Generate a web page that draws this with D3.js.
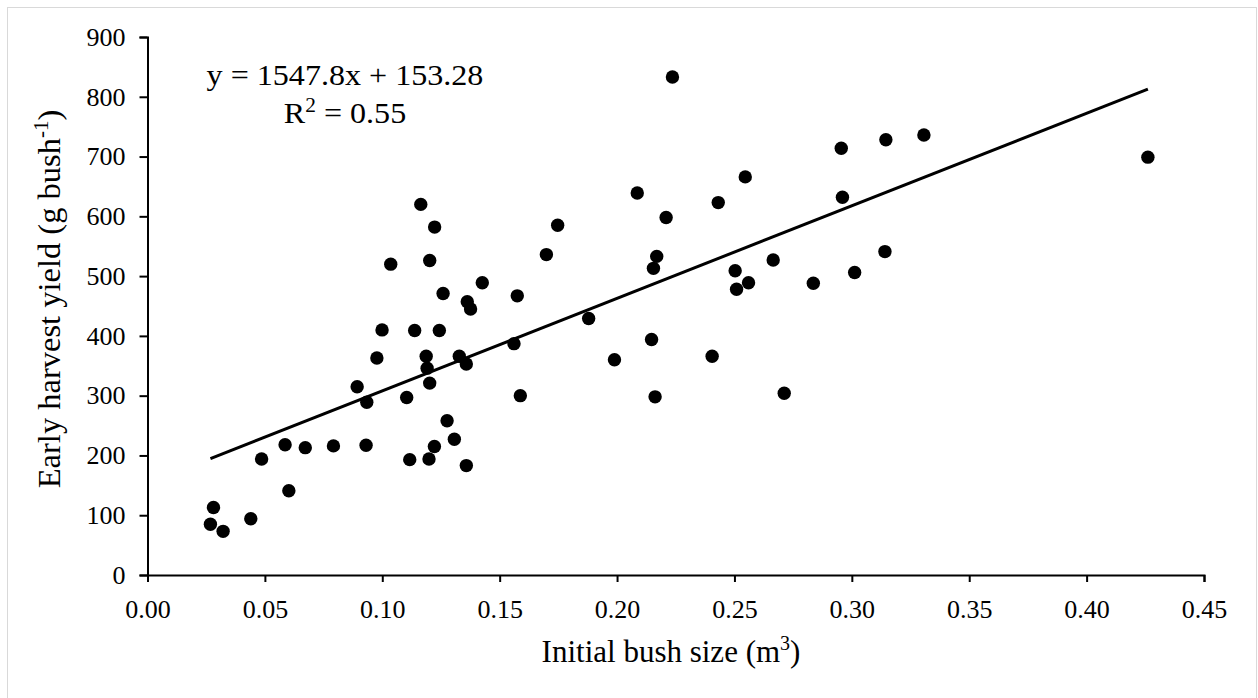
<!DOCTYPE html>
<html>
<head>
<meta charset="utf-8">
<script src="https://cdn.jsdelivr.net/npm/d3@7"></script>
<style>
  html, body { margin: 0; padding: 0; background: #fff; }
  svg text { font-family: "Liberation Serif", "Times New Roman", serif; fill: #000; }
</style>
</head>
<body>
<svg id="chart" width="1258" height="698"></svg>
<script>
// ---- data ----
const bushSize = [0.0268, 0.0281, 0.0322, 0.0440, 0.0486, 0.0586, 0.0602, 0.0672, 0.0792, 0.0893,
  0.0931, 0.0934, 0.0977, 0.0999, 0.1036, 0.1104, 0.1117, 0.1138, 0.1164, 0.1187,
  0.1191, 0.1199, 0.1202, 0.1202, 0.1222, 0.1223, 0.1243, 0.1259, 0.1276, 0.1307,
  0.1328, 0.1358, 0.1358, 0.1362, 0.1376, 0.1426, 0.1561, 0.1575, 0.1588, 0.1699,
  0.1747, 0.1879, 0.1989, 0.2086, 0.2147, 0.2155, 0.2162, 0.2169, 0.2209, 0.2236,
  0.2405, 0.2431, 0.2503, 0.2509, 0.2546, 0.2560, 0.2665, 0.2712, 0.2836, 0.2955,
  0.2960, 0.3012, 0.3141, 0.3145, 0.3307, 0.4261];
const harvestYield = [85, 113, 73, 94, 194, 218, 141, 213, 216, 315,
  217, 289, 363, 410, 520, 297, 193, 409, 620, 366,
  346, 194, 321, 526, 215, 582, 409, 471, 258, 227,
  366, 353, 183, 457, 445, 489, 387, 467, 300, 536,
  585, 429, 360, 639, 394, 513, 298, 533, 598, 833,
  366, 623, 509, 478, 666, 489, 527, 304, 488, 714,
  632, 506, 541, 728, 736, 699];
const xTicks = [0, 0.05, 0.10, 0.15, 0.20, 0.25, 0.30, 0.35, 0.40, 0.45];
const yTicks = [0, 100, 200, 300, 400, 500, 600, 700, 800, 900];
const trendSlope = 1547.8;
const trendIntercept = 153.28;
const equationText = "y = 1547.8x + 153.28";
const r2Value = "0.55";

// ---- layout ----
const svg = d3.select("#chart");
svg.append("rect").attr("x", 7.5).attr("y", 7.5).attr("width", 1249).attr("height", 700)
  .attr("fill", "#fff").attr("stroke", "#d9d9d9").attr("stroke-width", 1);

const x = d3.scaleLinear().domain([0, 0.45]).range([147.5, 1204]);
const y = d3.scaleLinear().domain([0, 900]).range([575, 37]);

const xAxis = svg.append("g").attr("transform", "translate(0,575)")
  .call(d3.axisBottom(x).tickValues(xTicks).tickFormat(d3.format(".2f")).tickSizeOuter(0).tickSize(7).tickPadding(18));
const yAxis = svg.append("g").attr("transform", "translate(147.5,0)")
  .call(d3.axisLeft(y).tickValues(yTicks).tickFormat(d3.format("d")).tickSizeOuter(0).tickSize(8).tickPadding(14));

[xAxis, yAxis].forEach(g => {
  g.select(".domain").attr("stroke", "#000").attr("stroke-width", 2);
  g.selectAll(".tick line").attr("stroke", "#000").attr("stroke-width", 2);
  g.selectAll(".tick text").attr("font-size", 26).attr("font-family", "Liberation Serif").attr("fill", "#000");
});

// trendline
const xr = d3.extent(bushSize);
svg.append("line")
  .attr("x1", x(xr[0])).attr("y1", y(trendSlope * xr[0] + trendIntercept))
  .attr("x2", x(xr[1])).attr("y2", y(trendSlope * xr[1] + trendIntercept))
  .attr("stroke", "#000").attr("stroke-width", 3);

// points
svg.append("g").selectAll("circle").data(bushSize.map((d, i) => [d, harvestYield[i]]))
  .join("circle")
  .attr("cx", d => x(d[0])).attr("cy", d => y(d[1])).attr("r", 6.7).attr("fill", "#000");

// equation
svg.append("text").attr("transform", "translate(345,85) scale(1.07,1)").attr("text-anchor", "middle")
  .attr("font-size", 30).text(equationText);
const r2 = svg.append("text").attr("transform", "translate(345,123) scale(1.07,1)").attr("text-anchor", "middle").attr("font-size", 30);
r2.append("tspan").text("R");
r2.append("tspan").attr("font-size", 20).attr("dy", -11).text("2");
r2.append("tspan").attr("dy", 11).text(" = " + r2Value);

// axis titles
const xt = svg.append("text").attr("x", 671).attr("y", 662).attr("text-anchor", "middle").attr("font-size", 31);
xt.append("tspan").text("Initial bush size (m");
xt.append("tspan").attr("font-size", 20).attr("dy", -12).text("3");
xt.append("tspan").attr("dy", 12).text(")");

const yt = svg.append("text").attr("transform", "translate(60,299) rotate(-90)").attr("text-anchor", "middle").attr("font-size", 32.5);
yt.append("tspan").text("Early harvest yield (g bush");
yt.append("tspan").attr("font-size", 21).attr("dy", -12).text("-1");
yt.append("tspan").attr("dy", 12).text(")");
</script>
</body>
</html>
